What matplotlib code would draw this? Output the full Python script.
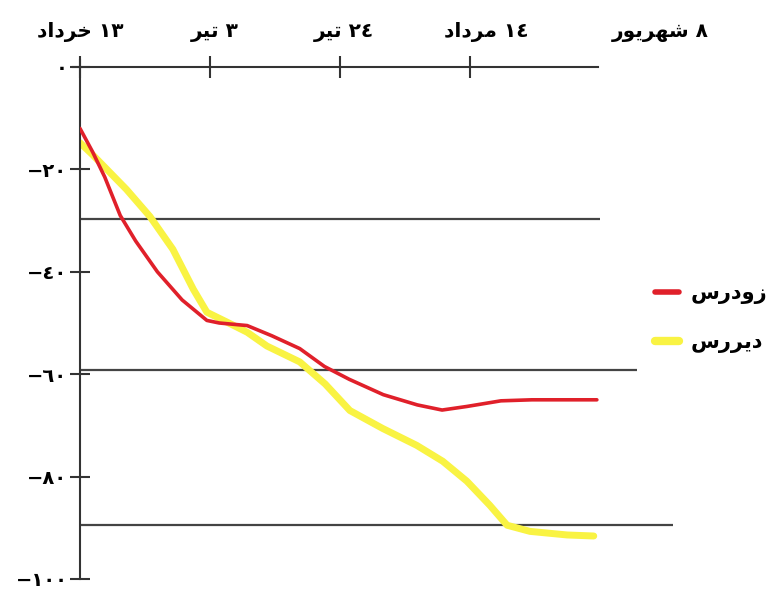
import matplotlib
matplotlib.use('Agg')
import matplotlib.pyplot as plt
from matplotlib.lines import Line2D
from matplotlib.transforms import ScaledTranslation

# days after 13 Khordad
early_days = [0, 2, 4, 6.5, 9, 12.5, 16.5, 20.5, 22.5, 27, 31, 35.5, 39.5, 43.5,
              49, 54.5, 58.5, 62.5, 68, 73, 83.5]
early_vals = [-12, -16.5, -21.5, -29, -34, -40, -45.5, -49.5, -50, -50.5, -52.5,
              -55, -58.5, -61, -64, -66, -67, -66.3, -65.2, -65, -65]

late_days = [0, 2, 7.5, 11.3, 15, 18.3, 20.5, 23.7, 27, 30.2, 35.5, 39.6, 43.6,
             48.9, 54.4, 58.6, 62.5, 66.2, 69, 72.7, 78.7, 83]
late_vals = [-14.8, -17.1, -23.9, -29.2, -35.6, -43.4, -47.9, -49.8, -51.8, -54.5,
             -57.6, -61.9, -67.1, -70.6, -73.9, -77, -80.9, -85.6, -89.5, -90.7,
             -91.4, -91.6]

x_ticks = [0, 21, 42, 63, 88]
x_labels = ['١٣ خرداد', '٣ تیر', '٢٤ تیر', '١٤ مرداد', '٨ شهریور']
y_ticks = [0, -20, -40, -60, -80, -100]
y_labels = ['٠', '−٢٠', '−٤٠', '−٦٠', '−٨٠', '−١٠٠']
series_names = ['زودرس', 'دیررس']

# matplotlib does no arabic shaping, so pick presentation forms by hand
FORMS = {
    'ا': ('\uFE8D', '\uFE8E', None, None),
    'ت': ('\uFE95', '\uFE96', '\uFE97', '\uFE98'),
    'خ': ('\uFEA5', '\uFEA6', '\uFEA7', '\uFEA8'),
    'د': ('\uFEA9', '\uFEAA', None, None),
    'ر': ('\uFEAD', '\uFEAE', None, None),
    'ز': ('\uFEAF', '\uFEB0', None, None),
    'س': ('\uFEB1', '\uFEB2', '\uFEB3', '\uFEB4'),
    'ش': ('\uFEB5', '\uFEB6', '\uFEB7', '\uFEB8'),
    'م': ('\uFEE1', '\uFEE2', '\uFEE3', '\uFEE4'),
    'ه': ('\uFEE9', '\uFEEA', '\uFEEB', '\uFEEC'),
    'و': ('\uFEED', '\uFEEE', None, None),
    '\u06cc': ('\uFBFC', '\uFBFD', '\uFBFE', '\uFBFF'),
    '\u064a': ('\uFEF1', '\uFEF2', '\uFEF3', '\uFEF4'),
}


def shape(word):
    out = []
    for i, ch in enumerate(word):
        f = FORMS.get(ch)
        if f is None:
            out.append(ch)
            continue
        prev = word[i - 1] if i > 0 else None
        nxt = word[i + 1] if i + 1 < len(word) else None
        jp = prev in FORMS and FORMS[prev][2] is not None
        jn = f[2] is not None and nxt in FORMS
        if jp and jn:
            out.append(f[3])
        elif jp:
            out.append(f[1])
        elif jn:
            out.append(f[2])
        else:
            out.append(f[0])
    return ''.join(reversed(out))


def rtl(text):
    parts = []
    for tok in reversed(text.split(' ')):
        if any(c in FORMS for c in tok):
            parts.append(shape(tok))
        else:
            parts.append(tok)
    return ' '.join(parts)


plt.rcParams['font.family'] = ['DejaVu Sans']
plt.rcParams['font.weight'] = 'bold'

fig = plt.figure(figsize=(7.79, 5.92), dpi=100)
ax = fig.add_axes([80 / 779, 1 - 579 / 592, 619 / 779, 512 / 592])
ax.set_xlim(0, 100)
ax.set_ylim(-100, 0)

for s in ['right', 'bottom']:
    ax.spines[s].set_visible(False)
ax.spines['left'].set_bounds(-100, 1.4)
ax.spines['top'].set_bounds(-1.2, 83.7)
for s in ['left', 'top']:
    ax.spines[s].set_linewidth(1.5)
    ax.spines[s].set_color('#333333')

# horizontal rules
for yv, xe in [(-29.6, 84), (-59.2, 90), (-89.5, 95.8)]:
    ax.hlines(yv, 0, xe, color='#444444', lw=1.6, zorder=1)

ax.plot(late_days, late_vals, color='#f9f343', lw=5, solid_capstyle='round', zorder=2)
ax.plot(early_days, early_vals, color='#e0202a', lw=2.6, solid_capstyle='round', zorder=3)

ax.xaxis.tick_top()
ax.set_xticks(x_ticks, [rtl(t) for t in x_labels])
ax.tick_params(axis='x', direction='inout', length=16, width=1.5, color='#333333',
               pad=10, labelsize=14.5)
ax.set_yticks(y_ticks, y_labels)
ax.tick_params(axis='y', direction='inout', length=14, width=1.5, color='#333333',
               pad=2, labelsize=14)

ticks = ax.xaxis.get_major_ticks()
ticks[-1].tick1line.set_visible(False)
ticks[-1].tick2line.set_visible(False)
offsets = [0, 5, 4, 16, 36]
for lab, dx in zip(ax.get_xticklabels(), offsets):
    lab.set_transform(lab.get_transform() + ScaledTranslation(dx / 100, 0, fig.dpi_scale_trans))

handles = [Line2D([], [], color='#e0202a', lw=4, solid_capstyle='round'),
           Line2D([], [], color='#f9f343', lw=6, solid_capstyle='round')]
ax.legend(handles, [rtl(n) for n in series_names], frameon=False, loc='center left',
          bbox_to_anchor=(0.899, 0.51), fontsize=15, handlelength=1.15, handletextpad=0.55,
          labelspacing=1.35)

fig.savefig('out.png', dpi=100)
